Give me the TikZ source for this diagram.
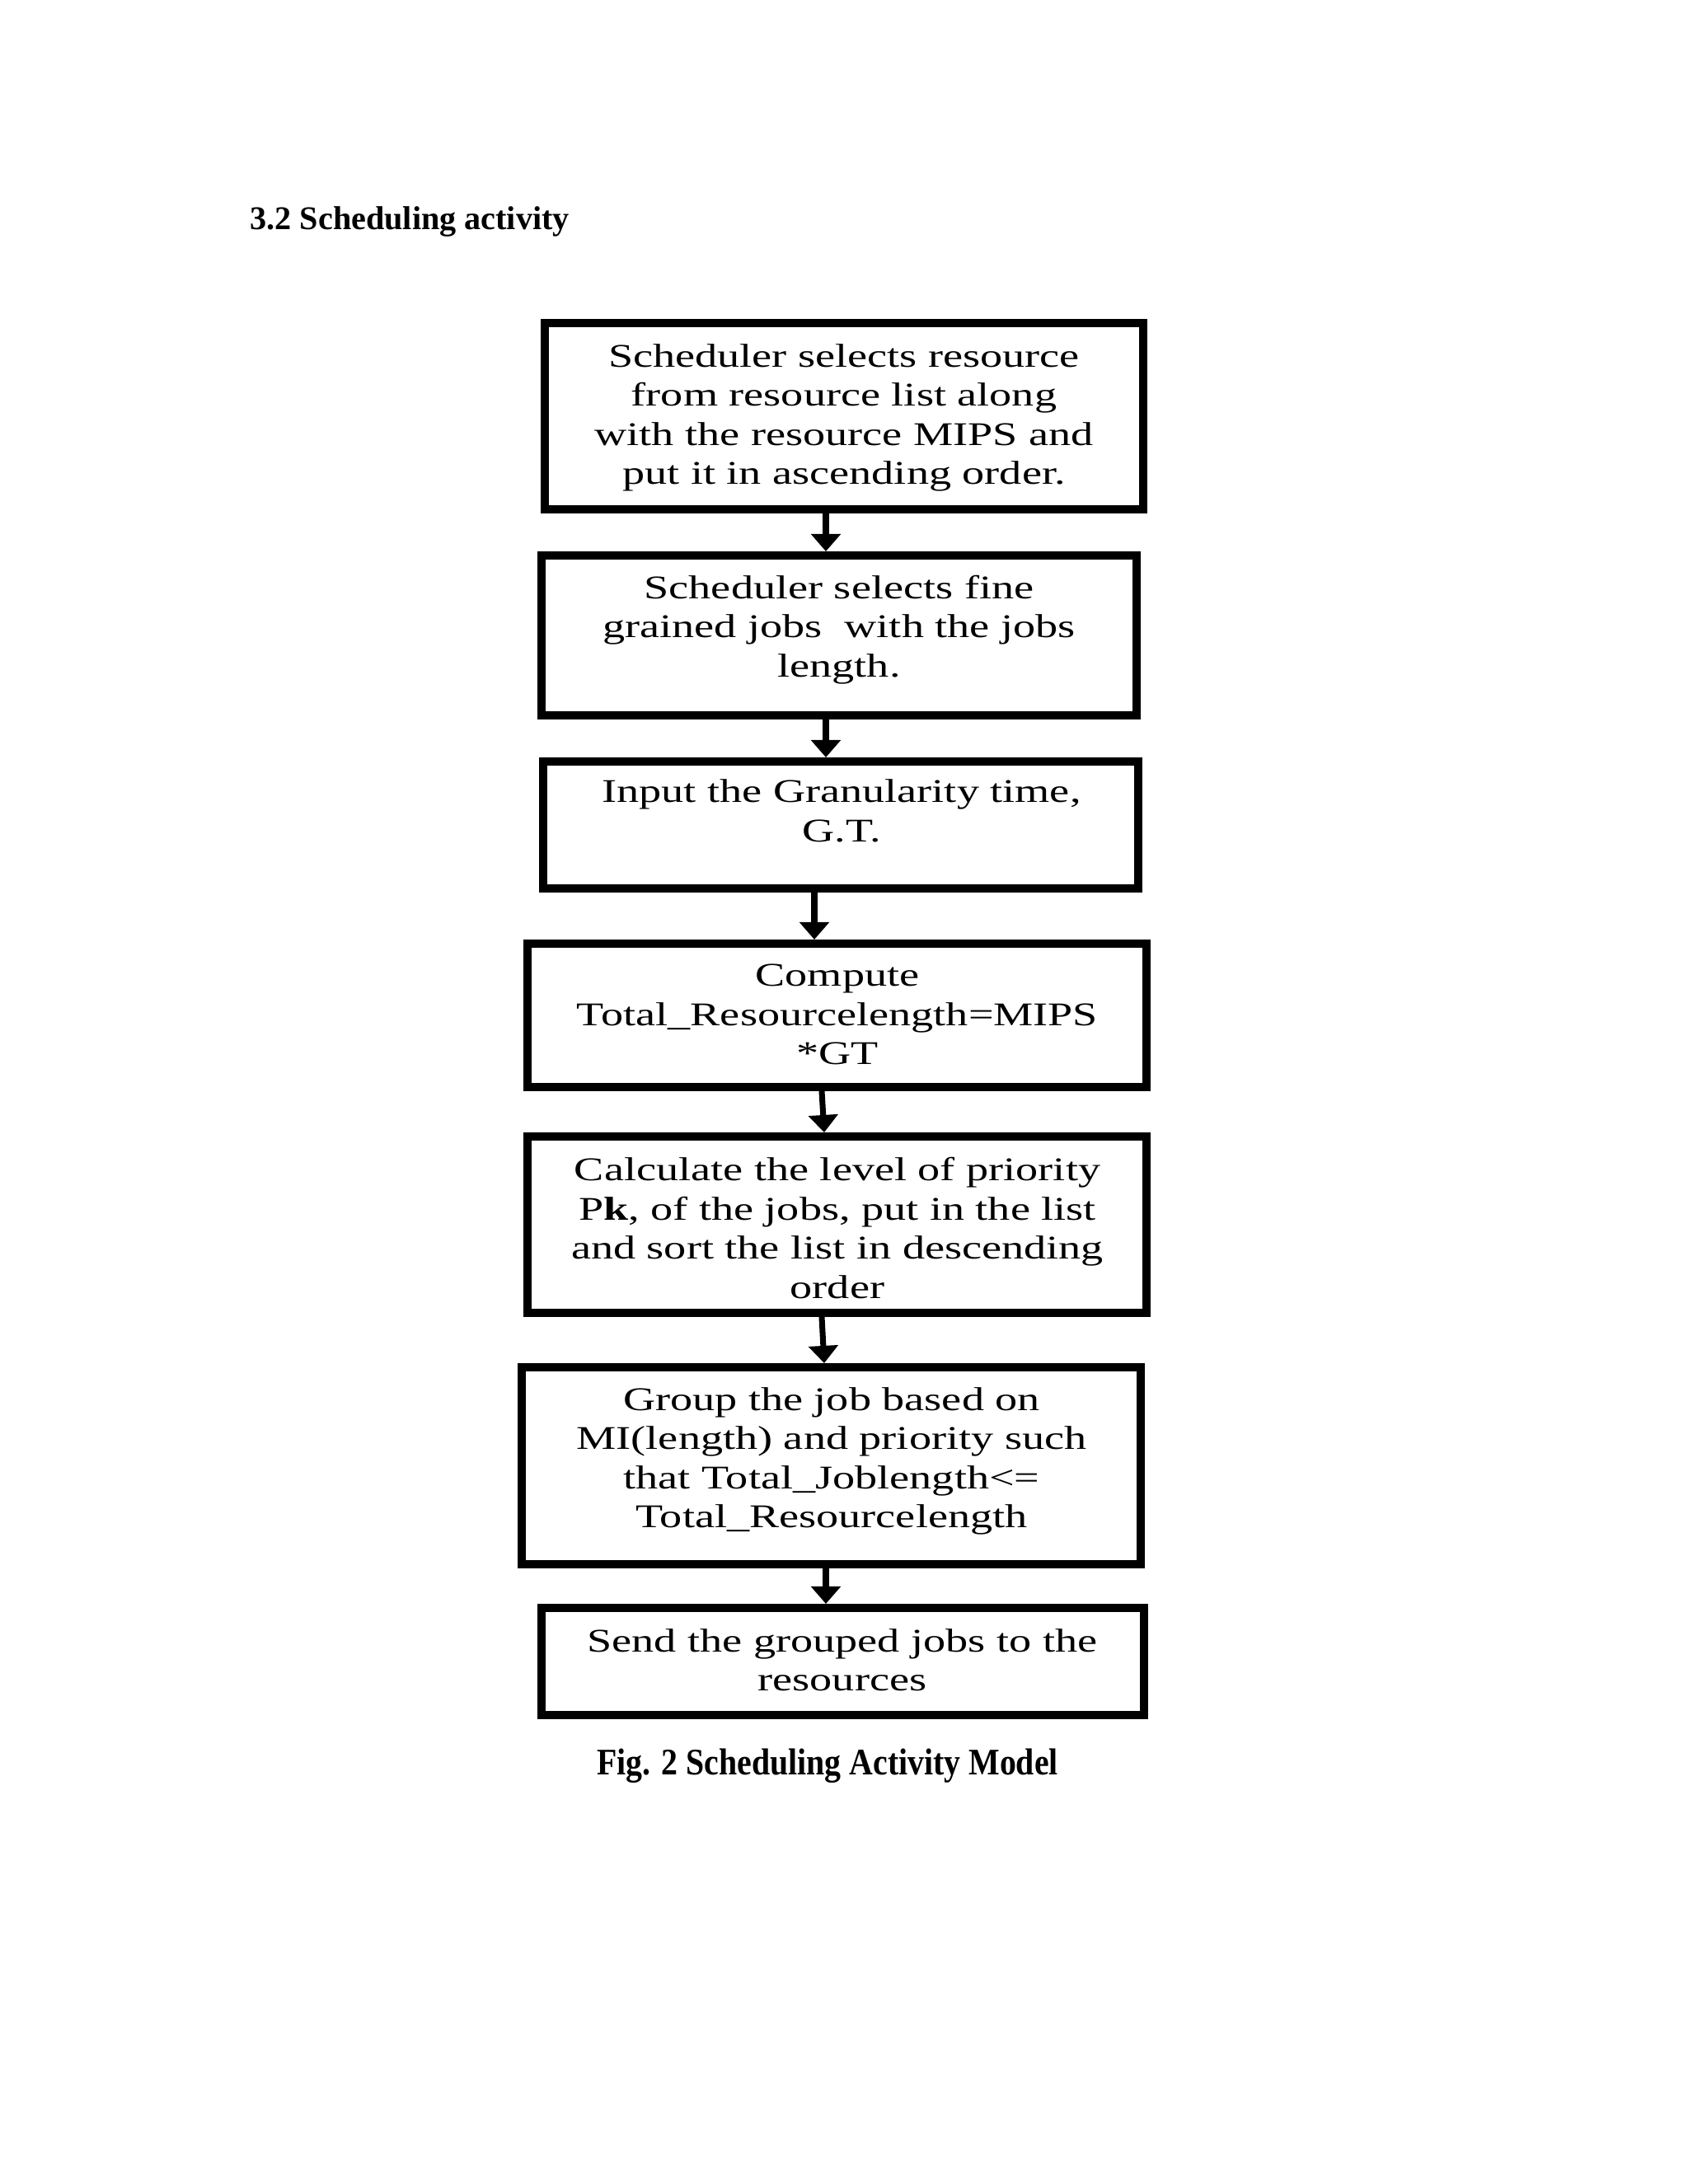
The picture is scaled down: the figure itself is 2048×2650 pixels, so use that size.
\documentclass[tikz,border=0pt]{standalone}
\usepackage{fontspec}
\setmainfont{Liberation Serif}
\newfontfamily\boxfont[FakeStretch=1.35]{Liberation Serif}
\newfontfamily\capfont[FakeStretch=0.875]{Liberation Serif}
\usepackage{tikz}
\usetikzlibrary{arrows.meta,positioning,calc}

% one pixel of the page
\newdimen\pxu \pxu=0.29883pt

\tikzset{
  stepbox/.style 2 args={draw, line width=10\pxu, inner sep=0pt,
    minimum width={(#1-10)*\pxu}, minimum height={(#2-10)*\pxu}},
  boxtext/.style={align=center, inner sep=0pt,
    font=\boxfont\fontsize{12}{14.2}\selectfont},
  arr/.style={line width=2.1pt, -{Triangle[width=10.5pt,length=6.3pt]}}
}

\begin{document}
\begin{tikzpicture}[x=\pxu, y=-\pxu]
  \useasboundingbox (0,0) rectangle (2048,2650);

  % heading
  \node[anchor=base west, inner sep=0pt, font=\bfseries\fontsize{12}{14}\selectfont]
    (head) at (303,278) {3.2 Scheduling activity};

  % boxes
  \node[stepbox={736}{236}] (b1) at (1024,505) {};
  \node[stepbox={732}{204}] (b2) at (1018,771) {};
  \node[stepbox={732}{164}] (b3) at (1020,1001) {};
  \node[stepbox={761}{184}] (b4) at (1015.5,1232) {};
  \node[stepbox={761}{224}] (b5) at (1015.5,1486) {};
  \node[stepbox={761}{249}] (b6) at (1008.5,1778.5) {};
  \node[stepbox={741}{140}] (b7) at (1022.5,2016) {};

  % texts
  \node[boxtext] (t1) at (1024,507) {Scheduler selects resource\\from resource list along\\with the resource MIPS and\\put it in ascending order.};
  \node[boxtext] (t2) at (1018,764) {Scheduler selects fine\\grained jobs~ with the jobs\\length.};
  \node[boxtext] (t3) at (1021,984) {Input the Granularity time,\\G.T.};
  \node[boxtext] (t4) at (1016,1231) {Compute\\Total\_Resourcelength=MIPS\\*GT};
  \node[boxtext] (t5) at (1016,1490) {Calculate the level of priority\\P\textbf{k}, of the jobs, put in the list\\and sort the list in descending\\order};
  \node[boxtext] (t6) at (1009,1773) {Group the job based on\\MI(length) and priority such\\that Total\_Joblength<=\\Total\_Resourcelength};
  \node[boxtext] (t7) at (1022,2014) {Send the grouped jobs to the\\resources};

  % arrows
  \draw[arr] ($(b1.south)+(-22,0)$) -- ($(b2.north)+(-16,0)$);
  \draw[arr] ($(b2.south)+(-16,0)$) -- ($(b3.north)+(-18,0)$);
  \draw[arr] ($(b3.south)+(-32,0)$) -- ($(b4.north)+(-27.5,0)$);
  \draw[arr] ($(b4.south)+(-18.5,0)$) -- ($(b5.north)+(-15.5,0)$);
  \draw[arr] ($(b5.south)+(-18.5,0)$) -- ($(b6.north)+(-8.5,0)$);
  \draw[arr] ($(b6.south)+(-6.5,0)$) -- ($(b7.north)+(-20.5,0)$);

  % caption
  \node[inner sep=0pt, font=\capfont\bfseries\fontsize{13.6}{15}\selectfont]
    (cap) at (1004,2143) {Fig. 2 Scheduling Activity Model};
\end{tikzpicture}
\end{document}
